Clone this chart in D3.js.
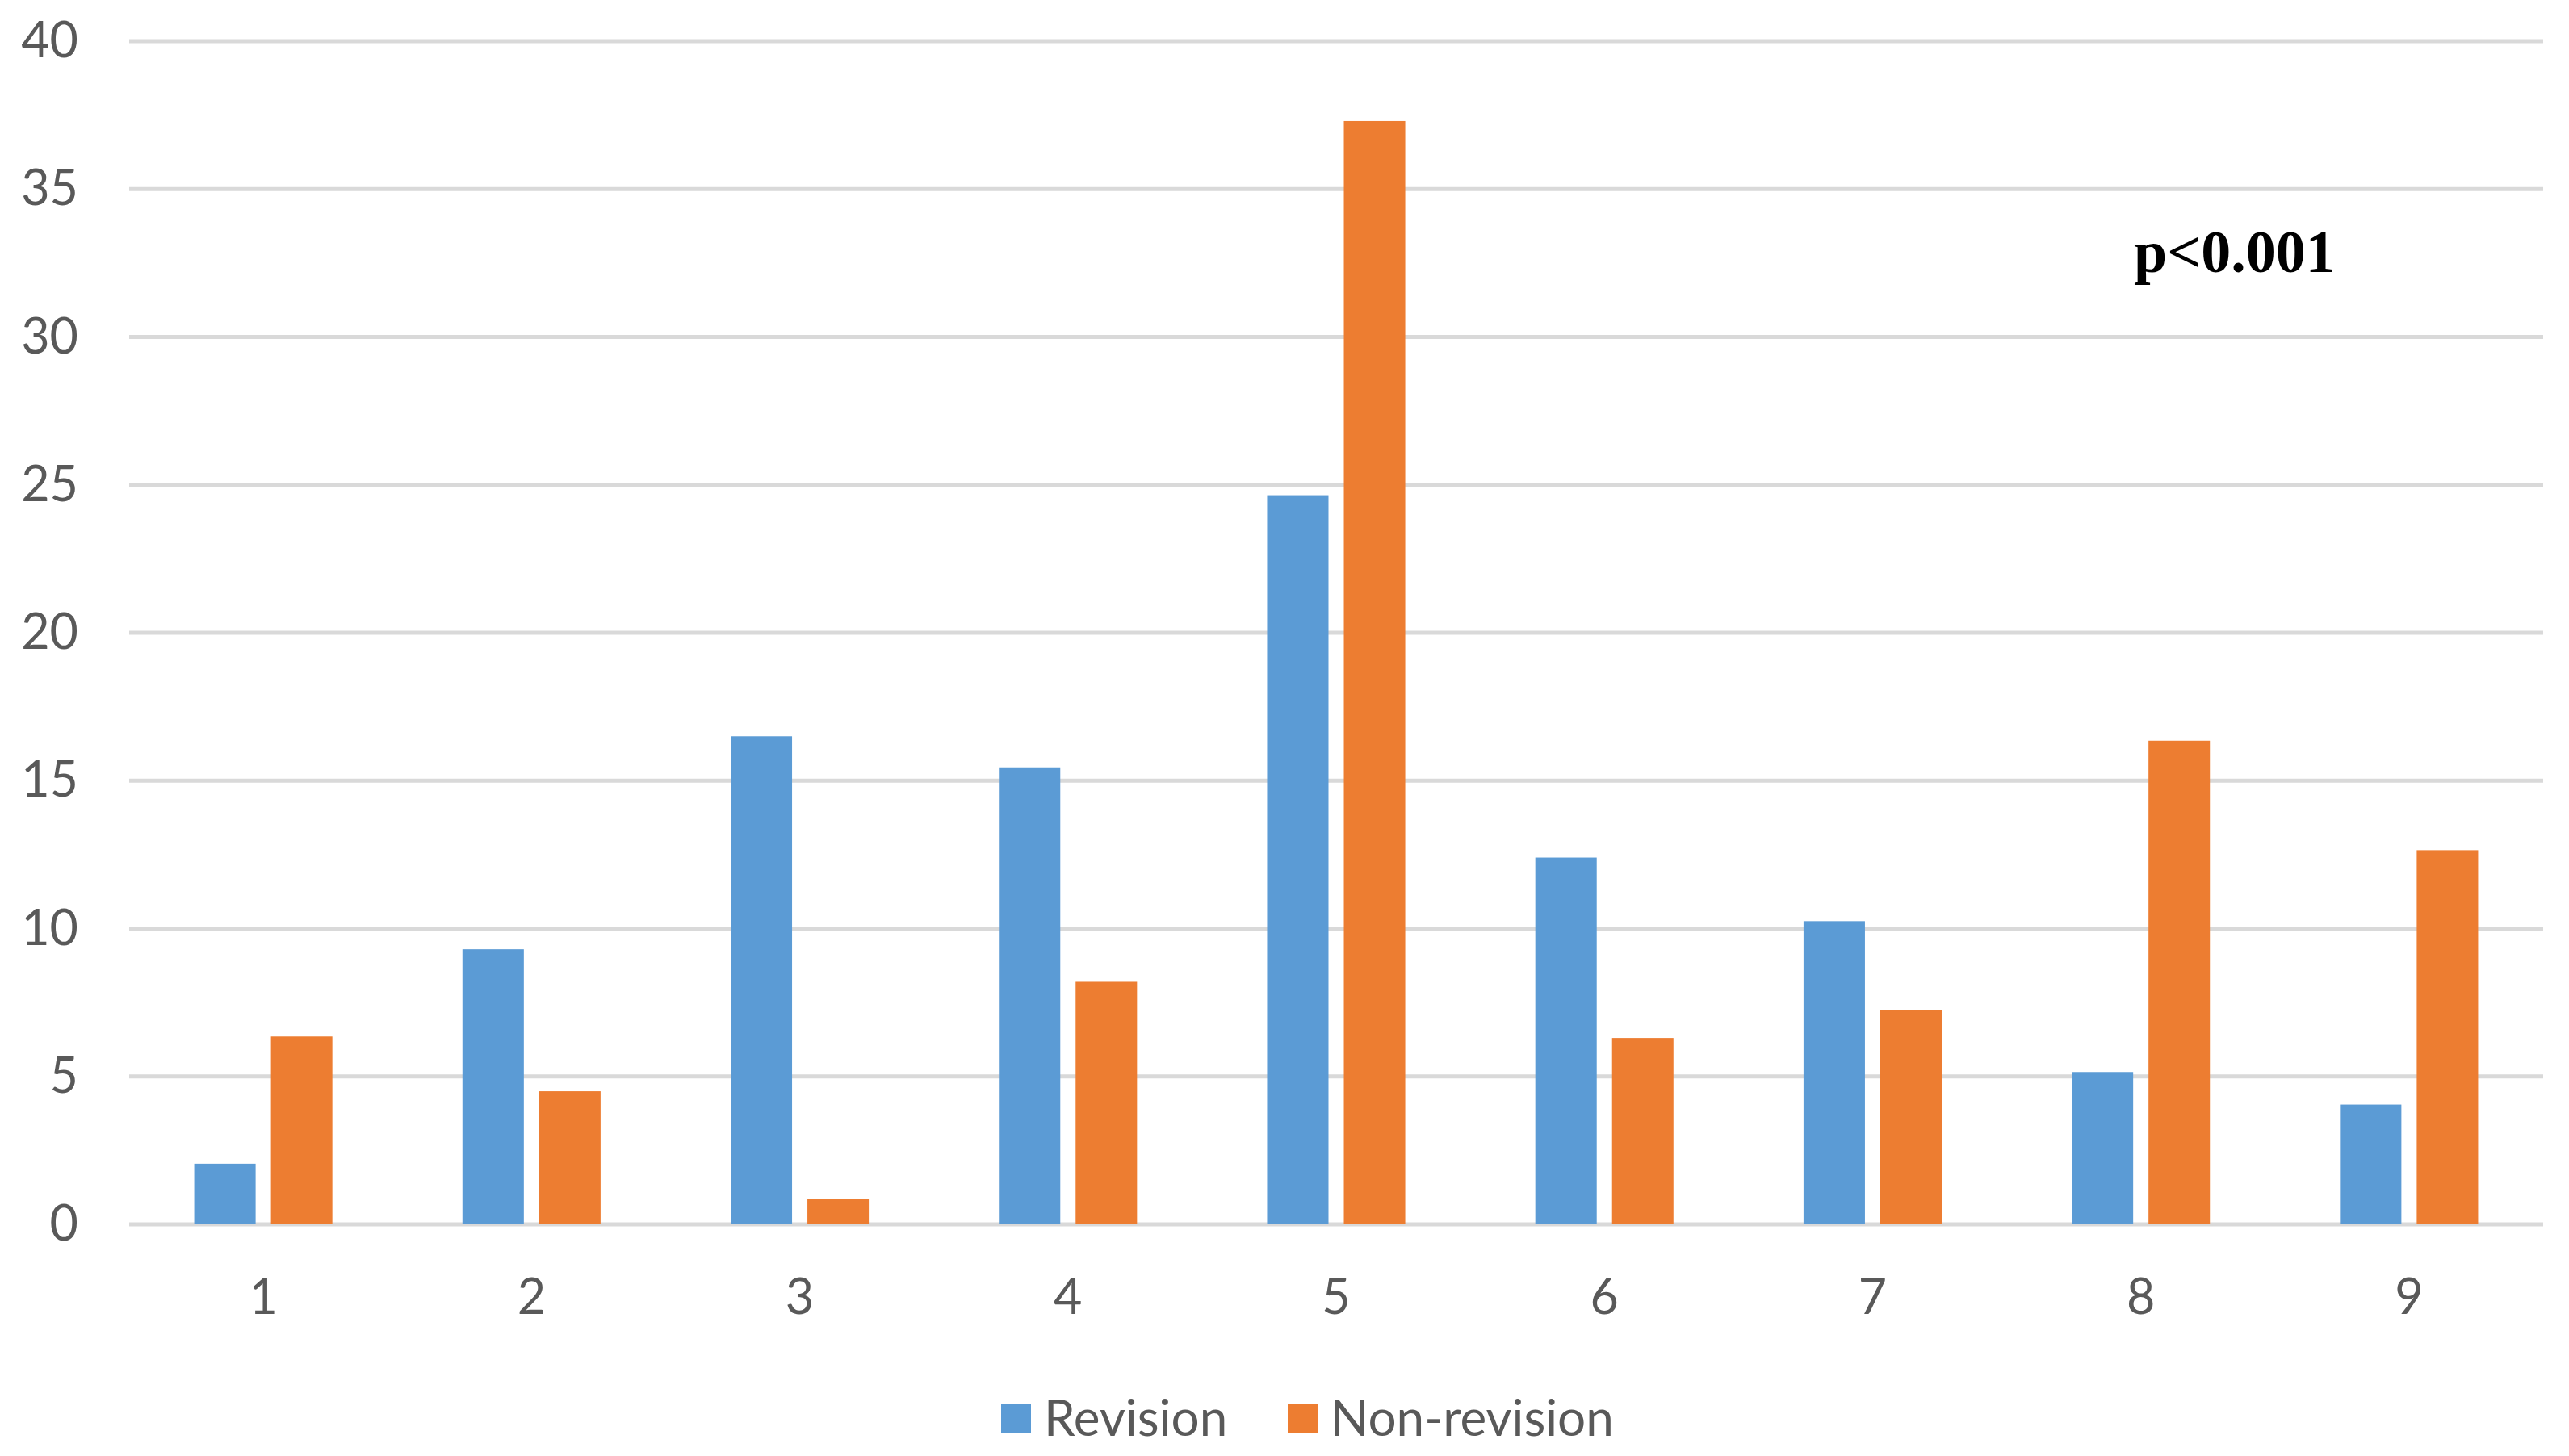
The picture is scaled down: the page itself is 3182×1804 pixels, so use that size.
<!DOCTYPE html>
<html>
<head>
<meta charset="utf-8">
<script src="https://cdn.jsdelivr.net/npm/d3@7"></script>
<style>
  html, body { margin: 0; padding: 0; background: #ffffff; }
  svg { display: block; }
</style>
</head>
<body>
<svg id="chart" width="3182" height="1804"></svg>
<script>
// ---- Data ----
const categories = ["1", "2", "3", "4", "5", "6", "7", "8", "9"];
const seriesNames = ["Revision", "Non-revision"];
const revision = [2.05, 9.3, 16.5, 15.45, 24.65, 12.4, 10.25, 5.15, 4.05];
const nonRevision = [6.35, 4.5, 0.85, 8.2, 37.3, 6.3, 7.25, 16.35, 12.65];
const yTicks = [0, 5, 10, 15, 20, 25, 30, 35, 40];
const annotation = "p<0.001";

// ---- Layout ----
const W = 3182, H = 1804;
const plot = { left: 160, right: 3150, top: 51, bottom: 1517 };
const colors = { "Revision": "#5B9BD5", "Non-revision": "#ED7D31" };
const textColor = "#595959";
const gridColor = "#d9d9d9";

const svg = d3.select("#chart");
svg.append("rect").attr("width", W).attr("height", H).attr("fill", "#fff");

const x = d3.scaleBand().domain(categories).range([plot.left, plot.right]).padding(0);
const y = d3.scaleLinear().domain([0, 40]).range([plot.bottom, plot.top]);

const groupW = x.bandwidth() * 0.515;
const xs = d3.scaleBand().domain(seriesNames).range([0, groupW]).paddingInner(0.2).paddingOuter(0);
const groupOffset = (x.bandwidth() - groupW) / 2;

// gridlines
svg.append("g").selectAll("line").data(yTicks).join("line")
  .attr("x1", plot.left).attr("x2", plot.right)
  .attr("y1", d => y(d)).attr("y2", d => y(d))
  .attr("stroke", gridColor).attr("stroke-width", 5);

// y axis labels
const yAxis = svg.append("g").attr("transform", `translate(${plot.left},0)`)
  .call(d3.axisLeft(y).tickValues(yTicks).tickSize(0).tickPadding(63).tickFormat(d3.format("d")));
yAxis.select(".domain").remove();
yAxis.selectAll("text").attr("fill", textColor)
  .style("font-family", "Lato, 'Open Sans', sans-serif").style("font-size", "61px");

// x axis labels
const xAxis = svg.append("g").attr("transform", `translate(0,${plot.bottom})`)
  .call(d3.axisBottom(x).tickSize(0).tickPadding(68));
xAxis.select(".domain").remove();
xAxis.selectAll("text").attr("fill", textColor)
  .style("font-family", "Lato, 'Open Sans', sans-serif").style("font-size", "61px");

// bars
const data = categories.map((c, i) => ({ cat: c, values: [
  { s: "Revision", v: revision[i] },
  { s: "Non-revision", v: nonRevision[i] }
]}));

const groups = svg.append("g").selectAll("g").data(data).join("g")
  .attr("transform", d => `translate(${x(d.cat) + groupOffset},0)`);
groups.selectAll("rect").data(d => d.values).join("rect")
  .attr("x", d => xs(d.s))
  .attr("width", xs.bandwidth())
  .attr("y", d => y(d.v))
  .attr("height", d => y(0) - y(d.v))
  .attr("fill", d => colors[d.s]);

// annotation
svg.append("text").attr("x", 2643).attr("y", 337)
  .attr("fill", "#000")
  .style("font-family", "'Liberation Serif', 'Times New Roman', serif")
  .style("font-weight", "bold").style("font-size", "74px")
  .text(annotation);

// legend
const legend = svg.append("g");
const legendItems = [
  { s: "Revision", x: 1240 },
  { s: "Non-revision", x: 1595 }
];
legendItems.forEach(it => {
  legend.append("rect").attr("x", it.x).attr("y", 1739).attr("width", 37).attr("height", 37)
    .attr("fill", colors[it.s]);
  legend.append("text").attr("x", it.x + 53).attr("y", 1779)
    .attr("fill", textColor)
    .style("font-family", "Lato, 'Open Sans', sans-serif").style("font-size", "62px")
    .text(it.s);
});
</script>
</body>
</html>
